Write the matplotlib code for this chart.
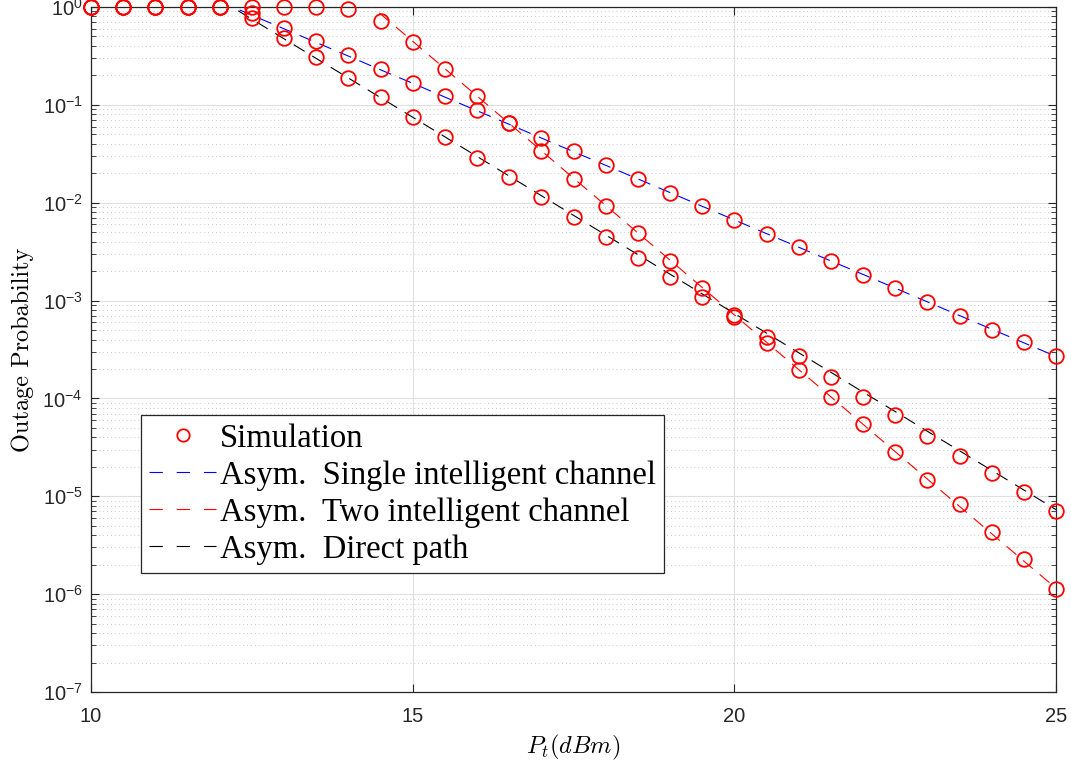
import matplotlib
matplotlib.use("Agg")
import matplotlib.pyplot as plt
import numpy as np
from matplotlib.lines import Line2D
from matplotlib.ticker import LogLocator, FixedLocator, FuncFormatter, NullFormatter

plt.rcParams["font.family"] = ["Liberation Sans", "DejaVu Sans"]
plt.rcParams["mathtext.fontset"] = "cm"
plt.rcParams["axes.unicode_minus"] = False

# ----------------------------------------------------------------------------
# Dados
# ----------------------------------------------------------------------------
pt_sim = np.arange(10, 25.01, 0.5)

sim_single = [1.0, 1.0, 1.0, 1.0, 1.0,
              0.87, 0.61, 0.445, 0.323, 0.232, 0.169, 0.122, 0.0883, 0.0645,
              0.0457, 0.0334, 0.0242, 0.0176, 0.0126, 0.00918, 0.00666,
              0.00483, 0.0035, 0.00254, 0.00184, 0.00134, 0.00097,
              0.000703, 0.000506, 0.000373, 0.00027]

sim_two = [1.0, 1.0, 1.0, 1.0, 1.0, 1.0, 1.0, 1.0,
           0.95, 0.713, 0.44, 0.234, 0.123, 0.0645, 0.034, 0.0176,
           0.00925, 0.00486, 0.00254, 0.00135, 0.00072, 0.00037,
           0.000197, 1.03e-4, 5.5e-5, 2.86e-5, 1.48e-5, 8.36e-6,
           4.33e-6, 2.26e-6, 1.14e-6]

sim_direct = [1.0, 1.0, 1.0, 1.0, 1.0,
              0.77, 0.48, 0.305, 0.188, 0.119, 0.0743, 0.0464, 0.0289,
              0.0183, 0.0113, 0.00708, 0.00443, 0.00272, 0.00173, 0.00108,
              0.00068, 0.000425, 0.00027, 1.65e-4, 1.04e-4, 6.76e-5,
              4.16e-5, 2.58e-5, 1.74e-5, 1.11e-5, 7.14e-6]

pt_asym_single = np.arange(12, 25.01, 0.5)
asym_single = [1.137, 0.825, 0.598, 0.434, 0.315, 0.228, 0.166, 0.120,
               0.0871, 0.0632, 0.0458, 0.0332, 0.0241, 0.0175, 0.0127,
               0.00919, 0.00667, 0.00483, 0.00351, 0.00254, 0.00185,
               0.00134, 0.00097, 0.000703, 0.000510, 0.000370, 0.000269]

pt_asym_two = np.arange(14, 25.01, 0.5)
asym_two = [1.61, 0.848, 0.446, 0.234, 0.123, 0.0646, 0.0340, 0.0178,
            0.00937, 0.00492, 0.00259, 0.00136, 0.000714, 0.000375,
            0.000197, 0.000104, 5.44e-5, 2.86e-5, 1.50e-5, 7.89e-6,
            4.15e-6, 2.18e-6, 1.15e-6]

pt_asym_direct = np.arange(12, 25.01, 0.5)
asym_direct = [1.19, 0.751, 0.473, 0.298, 0.188, 0.1185, 0.0747, 0.0471,
               0.0297, 0.0187, 0.0118, 0.00743, 0.00468, 0.00295, 0.00186,
               0.00117, 0.000738, 0.000465, 0.000293, 0.000185, 0.000116,
               7.34e-5, 4.62e-5, 2.92e-5, 1.84e-5, 1.16e-5, 7.3e-6]

legend_labels = [
    "Simulation",
    "Asym.  Single intelligent channel",
    "Asym.  Two intelligent channel",
    "Asym.  Direct path",
]

# ----------------------------------------------------------------------------
# Plot
# ----------------------------------------------------------------------------
fig = plt.figure(figsize=(10.71, 7.65), dpi=100)
ax = fig.add_axes([0.085, 0.0954, 0.901, 0.8955])

dash = (11.5, 8)
mk = dict(linestyle="none", marker="o", markersize=10.5, markerfacecolor="none",
          markeredgecolor="red", markeredgewidth=1.3, clip_on=False, zorder=4)

h_sim, = ax.plot(pt_sim, sim_single, **mk)
ax.plot(pt_sim, sim_two, **mk)
ax.plot(pt_sim, sim_direct, **mk)

cores = ["blue", "red", "black"]
series_asym = [(pt_asym_single, asym_single),
               (pt_asym_two, asym_two),
               (pt_asym_direct, asym_direct)]
for (xs, ys), cor in zip(series_asym, cores):
    ax.plot(xs, ys, color=cor, lw=0.8, linestyle="--", dashes=dash, zorder=3)

ax.set_yscale("log")
ax.set_xlim(10, 25)
ax.set_ylim(1e-7, 1)

ax.xaxis.set_major_locator(FixedLocator([10, 15, 20, 25]))
ax.yaxis.set_major_locator(LogLocator(base=10, numticks=20))
ax.yaxis.set_minor_locator(LogLocator(base=10, subs=np.arange(2, 10), numticks=20))
ax.yaxis.set_minor_formatter(NullFormatter())
ax.yaxis.set_major_formatter(FuncFormatter(
    lambda v, _p: r"$\mathregular{10^{%d}}$" % int(round(np.log10(v)))))

ax.tick_params(which="both", direction="in", top=True, right=True,
               labelsize=14.5, colors="#262626")
ax.tick_params(which="major", length=6, width=0.8)
ax.tick_params(which="minor", length=3.5, width=0.6)
ax.tick_params(axis="x", pad=11)
ax.tick_params(axis="y", pad=6)

ax.grid(which="major", color="#e0e0e0", linewidth=0.8, linestyle="-")
ax.grid(which="minor", axis="y", color="#c8c8c8", linewidth=0.7,
        linestyle=(0, (1, 3)))
ax.set_axisbelow(True)

for side in ("top", "right", "left", "bottom"):
    ax.spines[side].set_color("#262626")
    ax.spines[side].set_linewidth(0.9)

ax.set_xlabel(r"$P_t(dBm)$", fontsize=17.5, labelpad=5)
ax.set_ylabel("Outage Probability", fontsize=17.5, family="cmr10", labelpad=6)

# Legenda: alcas proprias para o tracejado caber em 3 tracos
leg_handles = [h_sim] + [
    Line2D([], [], color=cor, lw=0.8, linestyle="--", dashes=(12, 12.5))
    for cor in cores
]
leg = ax.legend(leg_handles, legend_labels,
                loc="lower left", bbox_to_anchor=(0.052, 0.174),
                borderaxespad=0, frameon=True, fancybox=False,
                handlelength=2.05, handletextpad=0.12, borderpad=0.25,
                labelspacing=0.2, prop={"family": "Liberation Serif", "size": 23.5},
                markerscale=0.85)
leg.get_frame().set_edgecolor("#262626")
leg.get_frame().set_linewidth(0.9)
leg.get_frame().set_alpha(1)

fig.savefig("out.png", dpi=100)
